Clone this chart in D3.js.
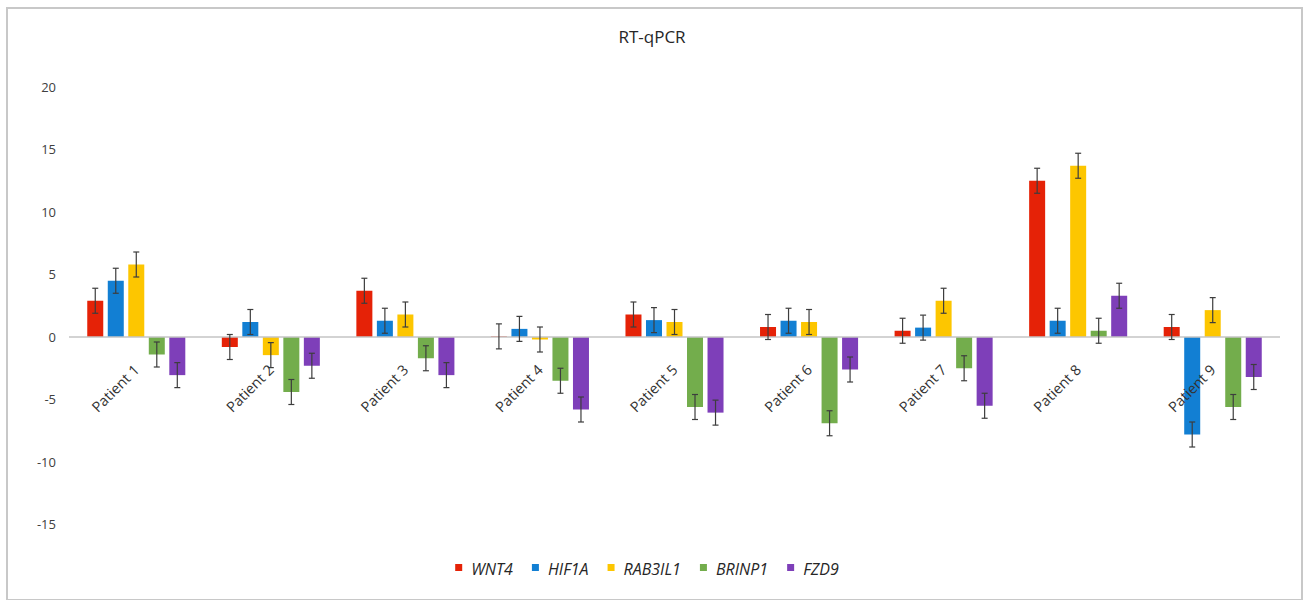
<!DOCTYPE html>
<html lang="en">
  <head>
    <meta charset="UTF-8" />
    <script src="https://d3js.org/d3.v7.min.js"></script>
    <title>RT-qPCR</title>
    <style>
      body {
        margin: 0;
        background: #fff;
      }
      text {
        font-family: 'Open Sans', 'Noto Sans', sans-serif;
      }
    </style>
  </head>
  <body>
    <script>
      const patients = ['Patient 1', 'Patient 2', 'Patient 3', 'Patient 4', 'Patient 5', 'Patient 6', 'Patient 7', 'Patient 8', 'Patient 9']
      const genes = ['WNT4', 'HIF1A', 'RAB3IL1', 'BRINP1', 'FZD9']
      const geneColors = ['#e52207', '#127fd3', '#fdc600', '#73ad4c', '#7e3fb9']

      // one value per patient
      const wnt4 = [2.9, -0.8, 3.7, 0.05, 1.8, 0.8, 0.5, 12.5, 0.8]
      const hif1a = [4.5, 1.2, 1.3, 0.65, 1.35, 1.3, 0.75, 1.3, -7.8]
      const rab3il1 = [5.8, -1.45, 1.8, -0.2, 1.2, 1.2, 2.9, 13.7, 2.15]
      const brinp1 = [-1.4, -4.4, -1.7, -3.5, -5.6, -6.9, -2.5, 0.5, -5.6]
      const fzd9 = [-3.05, -2.3, -3.05, -5.8, -6.05, -2.6, -5.5, 3.3, -3.2]
      const errors = [1, 1, 1, 1, 1]

      const yTicks = [20, 15, 10, 5, 0, -5, -10, -15]

      const series = [wnt4, hif1a, rab3il1, brinp1, fzd9]

      const W = 1306, H = 600
      const svg = d3.select('body').append('svg').attr('width', W).attr('height', H)

      // chart frame
      svg.append('rect')
        .attr('x', 7).attr('y', 8)
        .attr('width', 1295).attr('height', 592)
        .attr('fill', '#fff')
        .attr('stroke', '#c8c8c8')
        .attr('stroke-width', 2)

      const x0 = d3.scaleBand().domain(patients).range([69, 1280])
      const x1 = d3.scaleBand().domain(genes).range([0, x0.bandwidth()])
        .paddingInner(0.22).paddingOuter(0.89)
      const y = d3.scaleLinear().domain([-15, 20]).range([524.5, 87])

      svg.append('text')
        .attr('x', 652).attr('y', 43)
        .attr('text-anchor', 'middle')
        .attr('font-size', 17)
        .attr('fill', '#262626')
        .text('RT-qPCR')

      // y labels, no axis line
      const yAxis = svg.append('g')
        .attr('transform', 'translate(56,0)')
        .call(d3.axisLeft(y).tickValues(yTicks).tickFormat((d) => String(d)).tickSize(0).tickPadding(0))
      yAxis.select('.domain').remove()
      yAxis.selectAll('text')
        .attr('font-size', 13)
        .attr('fill', '#404040')
        .style('font-family', "'Open Sans', sans-serif")

      const rows = []
      patients.forEach((p, i) => {
        genes.forEach((g, j) => {
          rows.push({ patient: p, gene: g, value: series[j][i], err: errors[j], color: geneColors[j] })
        })
      })

      svg.append('g')
        .selectAll('rect')
        .data(rows)
        .join('rect')
        .attr('x', (d) => x0(d.patient) + x1(d.gene))
        .attr('width', x1.bandwidth())
        .attr('y', (d) => y(Math.max(0, d.value)))
        .attr('height', (d) => Math.abs(y(d.value) - y(0)))
        .attr('fill', (d) => d.color)

      // zero line
      svg.append('line')
        .attr('x1', 69).attr('x2', 1280)
        .attr('y1', y(0)).attr('y2', y(0))
        .attr('stroke', '#c4c4c4')
        .attr('stroke-width', 1.3)

      // error bars
      const eb = svg.append('g')
        .attr('stroke', '#3d3d3d')
        .attr('stroke-width', 1.2)
        .selectAll('g')
        .data(rows)
        .join('g')
        .attr('transform', (d) => 'translate(' + (x0(d.patient) + x1(d.gene) + x1.bandwidth() / 2) + ',0)')
      eb.append('line')
        .attr('y1', (d) => y(d.value + d.err))
        .attr('y2', (d) => y(d.value - d.err))
      eb.append('line')
        .attr('x1', -3).attr('x2', 3)
        .attr('y1', (d) => y(d.value + d.err))
        .attr('y2', (d) => y(d.value + d.err))
      eb.append('line')
        .attr('x1', -3).attr('x2', 3)
        .attr('y1', (d) => y(d.value - d.err))
        .attr('y2', (d) => y(d.value - d.err))

      // rotated category labels
      svg.append('g')
        .selectAll('text')
        .data(patients)
        .join('text')
        .attr('transform', (d) => 'translate(' + (x0(d) + x0.bandwidth() / 2 + 4) + ',371) rotate(-45)')
        .attr('text-anchor', 'end')
        .attr('font-size', 14.5)
        .attr('fill', '#333')
        .text((d) => d)

      // legend
      const legend = svg.append('g')
      let lx = 0
      genes.forEach((g, j) => {
        const item = legend.append('g').attr('transform', 'translate(' + lx + ',0)')
        item.append('rect')
          .attr('x', 0).attr('y', -11)
          .attr('width', 7).attr('height', 7)
          .attr('fill', geneColors[j])
        const t = item.append('text')
          .attr('x', 16).attr('y', 0)
          .attr('font-size', 16)
          .attr('font-style', 'italic')
          .attr('fill', '#262626')
          .text(g)
        lx += 16 + t.node().getComputedTextLength() + 19
      })
      legend.attr('transform', 'translate(' + (647 - (lx - 19) / 2) + ',575)')
    </script>
  </body>
</html>
